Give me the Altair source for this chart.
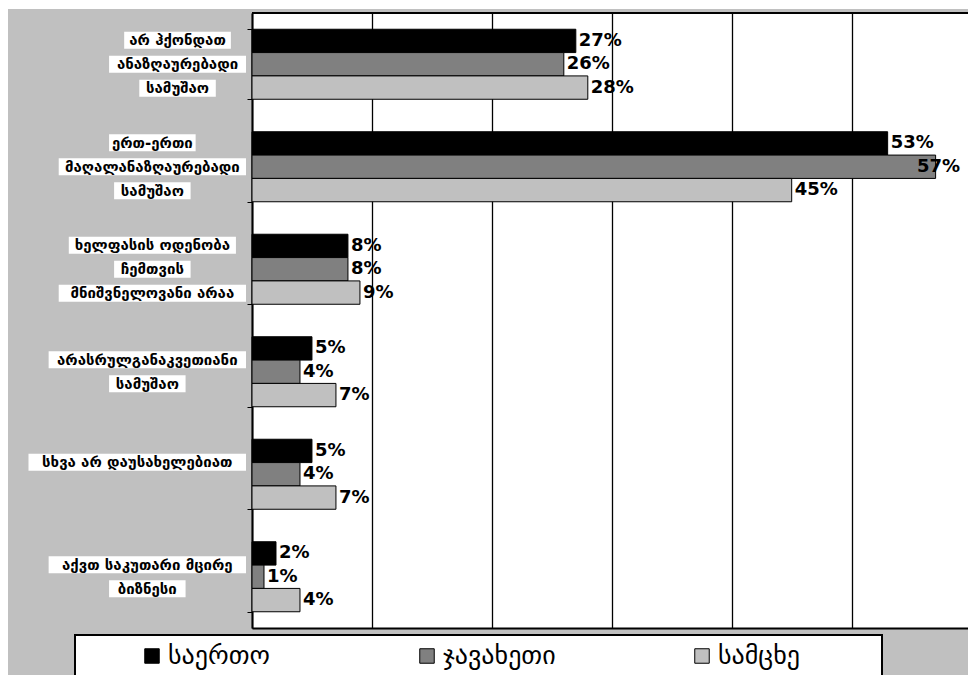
import altair as alt
import pandas as pd

# Survey answers (share of respondents, %) by region
series = ["საერთო", "ჯავახეთი", "სამცხე"]
series_colors = ["#000000", "#808080", "#c0c0c0"]

category_lines = [
    ["არ ჰქონდათ", "ანაზღაურებადი", "სამუშაო"],
    ["ერთ-ერთი", "მაღალანაზღაურებადი", "სამუშაო"],
    ["ხელფასის ოდენობა", "ჩემთვის", "მნიშვნელოვანი არაა"],
    ["არასრულგანაკვეთიანი", "სამუშაო"],
    ["სხვა არ დაუსახელებიათ", ""],
    ["აქვთ საკუთარი მცირე", "ბიზნესი"],
]
total = [27, 53, 8, 5, 5, 2]
javakheti = [26, 57, 8, 4, 4, 1]
samtskhe = [28, 45, 9, 7, 7, 4]

grid_values = [0, 10, 20, 30, 40, 50]

W, H = 716, 615
X_MAX = 59.7
FONT = "DejaVu Sans"

categories = [" ".join(t for t in lines if t) for lines in category_lines]

bars = pd.DataFrame(
    [
        {"category": c, "series": s, "value": v}
        for s, vals in zip(series, [total, javakheti, samtskhe])
        for c, v in zip(categories, vals)
    ]
)
bars["label"] = bars["value"].astype(str) + "%"

# category captions: centred lines on white strips, left of the axis
label_size = 15
char_w = 9.4 * label_size / 14
line_gap = 24
step = H / len(categories)
rows = []
for ci, lines in enumerate(category_lines):
    n = len(lines)
    widths = [len(t) * char_w for t in lines]
    cx = -9 - max(widths) / 2
    for li, (t, w) in enumerate(zip(lines, widths)):
        if not t:
            continue
        py = (ci + 0.5) * step + (li - (n - 1) / 2) * line_gap
        rows.append({"text": t, "px": cx, "py": py, "bx1": cx - w / 2 - 3, "bx2": cx + w / 2 + 3})
caps = pd.DataFrame(rows)

y_enc = alt.Y(
    "category:N",
    sort=categories,
    scale=alt.Scale(paddingInner=0.317, paddingOuter=0.1585),
    axis=alt.Axis(
        labels=False, title=None, domain=True, domainColor="black", domainWidth=2,
        ticks=True, tickSize=5, tickColor="black", tickWidth=1, tickBand="extent", grid=False,
    ),
)
x_enc = alt.X(
    "value:Q",
    scale=alt.Scale(domain=[0, X_MAX], nice=False, zero=True),
    axis=alt.Axis(
        values=grid_values, labels=False, ticks=False, title=None,
        domain=True, domainColor="black", domainWidth=2,
        grid=True, gridColor="black", gridWidth=1.3, gridOpacity=1,
    ),
)
y_off = alt.YOffset("series:N", sort=series, scale=alt.Scale(paddingInner=0, paddingOuter=0))
color = alt.Color(
    "series:N",
    sort=series,
    scale=alt.Scale(domain=series, range=series_colors),
    legend=alt.Legend(
        title=None, orient="none", legendX=-113, legendY=630, direction="horizontal",
        columns=3, gridAlign="all", columnPadding=133, symbolType="square", symbolSize=210,
        symbolStrokeColor="black", symbolStrokeWidth=1, symbolOpacity=1,
        labelFont=FONT, labelFontSize=26, labelColor="black", labelOffset=3, labelLimit=400,
    ),
)

bar_layer = alt.Chart(bars).mark_bar(stroke="black", strokeWidth=1).encode(
    x=x_enc, y=y_enc, yOffset=y_off, color=color
)
# labels near the right edge are pulled back so they stay inside the plot
value_text = alt.Chart(bars).transform_calculate(
    xl="min(datum.value, 55.2)"
).mark_text(
    align="left", baseline="middle", dx=3, font=FONT, fontSize=18, fontWeight="bold", color="black"
).encode(
    x=alt.X("xl:Q"), y=alt.Y("category:N", sort=categories), yOffset=alt.YOffset("series:N", sort=series), text="label:N"
)
plot = alt.layer(bar_layer, value_text)

cap_boxes = alt.Chart(caps).mark_rule(color="white", strokeWidth=17, strokeCap="butt").encode(
    x=alt.X("bx1:Q", scale=None), x2="bx2:Q", y=alt.Y("py:Q", scale=None)
)
cap_text = alt.Chart(caps).mark_text(
    align="center", baseline="middle", font=FONT, fontSize=label_size, fontWeight="bold", color="black"
).encode(x=alt.X("px:Q", scale=None), y=alt.Y("py:Q", scale=None), text="text:N")

frame = alt.Chart(caps)
top_strip = frame.mark_rect(color="white").encode(
    x=alt.value(-252), x2=alt.value(W), y=alt.value(-13), y2=alt.value(-4)
)
left_strip = frame.mark_rect(color="white").encode(
    x=alt.value(-252), x2=alt.value(-244), y=alt.value(-13), y2=alt.value(H + 60)
)
legend_box = frame.mark_rect(fill="white", stroke="black", strokeWidth=2).encode(
    x=alt.value(-177), x2=alt.value(630), y=alt.value(622), y2=alt.value(H + 70)
)
top_rule = frame.mark_rule(color="black", strokeWidth=1).encode(
    x=alt.value(0), x2=alt.value(W), y=alt.value(0)
)

chart = alt.layer(
    top_strip, left_strip, legend_box, plot, cap_boxes, cap_text, top_rule
).resolve_scale(
    x="independent", y="independent"
).properties(
    width=W, height=H,
    autosize=alt.AutoSizeParams(type="none"),
    padding={"left": 252, "top": 13, "right": 0, "bottom": 47},
    background="#c0c0c0",
).configure_view(fill="white", stroke=None)

chart.save("out.html", embed_options={"renderer": "svg", "actions": False})
